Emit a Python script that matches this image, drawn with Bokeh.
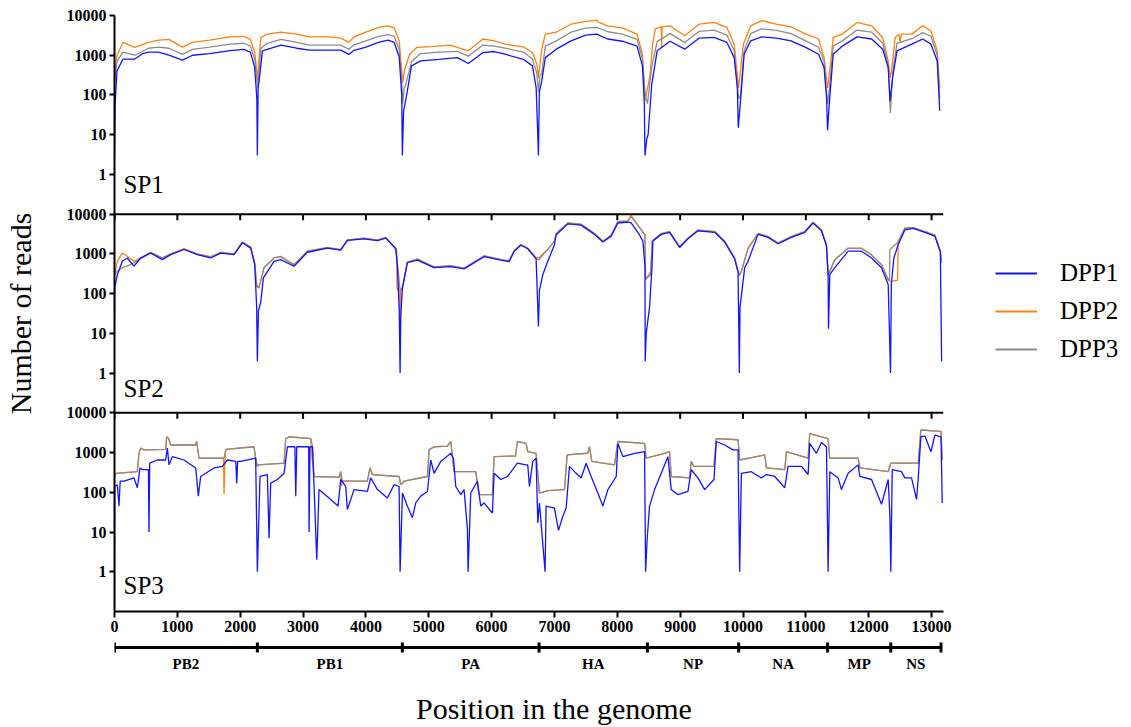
from bokeh.plotting import figure
from bokeh.models import (Range1d, LogScale, FixedTicker, Legend, LegendItem, Label, Span,
                          ColumnDataSource)
from bokeh.layouts import column, row
from bokeh.embed import file_html
from bokeh.resources import INLINE
from bokeh.core.properties import value

# ---------------- data (position in genome, number of reads) ----------------
SEGMENTS = ["PB2", "PB1", "PA", "HA", "NP", "NA", "MP", "NS"]
SEG_BOUNDS = [0, 2273, 4580, 6755, 8479, 9931, 11346, 12351, 13150]
X_TICKS = [0, 1000, 2000, 3000, 4000, 5000, 6000, 7000, 8000, 9000, 10000, 11000, 12000, 13000]
Y_TICKS = [1, 10, 100, 1000, 10000]
Y_TICK_LABELS = ["1", "10", "100", "1000", "10000"]
SERIES = ["DPP1", "DPP2", "DPP3"]
PANELS = ["SP1", "SP2", "SP3"]

SP1_DPP1 = [(0,3),(10,60),(40,400),(135,800),(324,800),(450,1100),(540,1200),(700,1200),(865,1000),(1080,750),(1243,1000),(1513,1100),(1838,1300),(2054,1400),(2162,1200),(2230,500),(2265,80),(2273,3),
(2285,150),(2300,220),(2354,1290),(2650,1800),(2900,1500),(3100,1350),(3400,1350),(3600,1350),(3730,1050),(3800,1300),(4000,1600),(4200,2100),(4350,2400),(4450,2100),(4530,900),(4570,100),(4580,3),
(4600,40),(4640,85),(4726,540),(4870,720),(5163,790),(5455,870),(5630,620),(5863,1170),(6040,1240),(6213,1060),(6505,790),(6650,540),(6709,150),(6745,3),
(6760,120),(6797,220),(6855,870),(7030,1420),(7263,2300),(7497,3200),(7672,3400),(7847,2560),(8080,2250),(8314,1700),(8400,540),(8430,60),(8440,3),
(8470,8),(8490,10),(8547,180),(8634,1290),(8839,2250),(9072,1420),(9305,2700),(9539,2800),(9743,2100),(9860,870),(9910,150),(9925,15),
(9960,70),(10018,1060),(10122,2300),(10297,2900),(10531,2700),(10764,2300),(10997,1580),(11202,1060),(11290,490),(11330,80),(11345,13),
(11376,70),(11435,1060),(11581,1700),(11814,2900),(12047,2560),(12222,1420),(12310,490),(12340,70),
(12380,270),(12450,1290),(12685,1900),(12860,2560),(12990,1900),(13090,720),(13130,40)]

SP1_DPP2 = [(0,300),(40,1000),(135,2100),(324,1580),(540,2100),(700,2400),(865,2500),(1080,1600),(1243,2100),(1513,2400),(1838,2900),(2054,3000),(2162,2500),(2230,1200),(2265,400),(2280,250),
(2300,900),(2330,2800),(2430,3400),(2650,3800),(2900,3400),(3100,2900),(3400,2900),(3600,2700),(3730,2100),(3800,2800),(4000,3800),(4200,5000),(4350,5500),(4450,4900),(4530,2300),(4570,400),(4585,200),
(4610,400),(4697,1060),(4813,1580),(5047,1650),(5340,1800),(5630,1290),(5863,2560),(6040,2300),(6213,1900),(6505,1630),(6650,1170),(6720,600),(6745,270),
(6770,600),(6800,1500),(6855,3400),(7030,3800),(7263,6100),(7497,7100),(7640,7400),(7672,7700),(7700,6800),(7847,5500),(8080,4900),(8314,3400),(8400,1060),(8440,70),
(8460,100),(8520,300),(8560,1800),(8605,4600),(8700,5200),(8705,1600),(8712,5200),(8839,5500),(9072,3100),(9305,6100),(9539,6700),(9743,5000),(9860,1900),(9930,150),
(9950,300),(10006,1900),(10122,5500),(10297,7400),(10531,6100),(10764,5200),(10997,3400),(11100,3000),(11202,2560),(11290,870),(11347,150),
(11380,400),(11435,2800),(11581,3400),(11814,6700),(12047,5500),(12222,2800),(12310,720),(12340,270),
(12370,500),(12421,2800),(12480,3400),(12500,2100),(12520,3400),(12685,3400),(12860,5500),(12990,4100),(13090,1290),(13130,150)]

SP1_DPP3 = [(0,200),(40,700),(135,1200),(324,1000),(540,1500),(700,1600),(865,1500),(1080,1050),(1243,1400),(1513,1600),(1838,1900),(2054,2000),(2162,1700),(2230,800),(2265,250),(2280,150),
(2300,400),(2330,1500),(2430,2000),(2650,2500),(2900,2100),(3100,1800),(3400,1800),(3600,1800),(3730,1400),(3800,1800),(4000,2300),(4200,3000),(4350,3300),(4450,3000),(4530,1400),(4570,250),(4585,60),
(4610,150),(4640,200),(4726,700),(4870,1100),(5163,1200),(5455,1250),(5630,950),(5863,1800),(6040,1700),(6213,1500),(6505,1200),(6650,800),(6720,350),(6745,120),
(6770,300),(6797,350),(6855,1700),(7030,2300),(7263,3800),(7497,4800),(7672,5000),(7847,3900),(8080,3400),(8314,2500),(8400,800),(8445,100),
(8480,60),(8547,500),(8634,2200),(8839,3500),(9072,2100),(9305,4000),(9539,4300),(9743,3200),(9860,1300),(9930,80),
(9960,100),(10018,1300),(10122,3500),(10297,4600),(10531,4200),(10764,3500),(10997,2300),(11202,1600),(11290,700),(11346,60),
(11376,150),(11435,1700),(11581,2300),(11814,4300),(12047,3800),(12222,2000),(12310,600),(12345,35),
(12380,350),(12450,2000),(12685,2600),(12860,3700),(12990,3000),(13090,1000),(13130,80)]

SP2_DPP1 = [(0,19),(3,140),(45,300),(125,650),(204,790),(310,490),(416,790),(576,1050),(761,720),(894,960),(1106,1290),(1318,960),(1530,790),(1690,1050),(1902,960),(2034,1900),(2167,1400),(2231,540),(2262,45),(2273,2),
(2290,37),(2326,60),(2369,250),(2538,650),(2645,720),(2857,490),(3069,1100),(3387,1400),(3599,1250),(3705,2200),(3971,2400),(4183,2150),(4316,2500),(4475,1350),(4501,500),(4530,40),(4544,1),
(4554,25),(4581,140),(4660,600),(4820,700),(5085,450),(5350,480),(5562,420),(5880,850),(6146,700),(6278,640),(6358,1150),(6464,1650),(6575,1350),(6708,750),(6745,15),
(6761,120),(6814,300),(6894,650),(7000,1700),(7027,3000),(7212,5700),(7425,5300),(7637,3100),(7770,2000),(7903,2800),(8009,6000),(8168,6300),(8221,6000),(8354,3000),(8407,2100),(8440,500),(8444,2),
(8460,10),(8513,45),(8551,450),(8567,2100),(8699,3100),(8832,3500),(8991,1450),(9124,2400),(9283,3800),(9549,3500),(9708,2000),(9867,750),(9921,350),(9942,1),
(9952,45),(10027,450),(10080,650),(10239,3100),(10398,2600),(10558,1800),(10770,2600),(10983,3500),(11115,6000),(11248,3800),(11328,1600),(11354,300),(11360,13),
(11381,300),(11460,450),(11673,1170),(11885,1170),(12045,790),(12204,450),(12310,170),(12347,1),
(12360,170),(12400,790),(12469,1700),(12575,4000),(12708,4400),(12894,3500),(13053,2800),(13140,1100),(13160,2)]

SP2_DPP2 = [(0,300),(45,650),(125,1050),(204,870),(310,650),(416,800),(576,1100),(761,800),(894,1000),(1106,1350),(1318,1000),(1530,850),(1690,1100),(1902,1000),(2034,2000),(2167,1500),(2231,600),(2262,170),
(2299,140),(2379,450),(2538,790),(2645,870),(2857,540),(3069,1170),(3387,1450),(3599,1290),(3705,2250),(3971,2500),(4183,2250),(4316,2600),(4475,1400),(4490,1100),(4495,130),(4540,120),(4545,5),(4555,120),
(4581,140),(4660,620),(4820,750),(5085,470),(5350,510),(5562,440),(5880,900),(6146,730),(6278,680),(6358,1200),(6464,1750),(6575,1400),(6708,800),(6745,790),
(6894,1300),(7000,2100),(7027,3300),(7212,6000),(7425,5600),(7637,3300),(7770,2100),(7903,3000),(8009,6600),(8168,6800),(8221,9500),(8300,6000),(8440,3000),(8450,230),(8530,350),(8556,2100),
(8699,3300),(8832,3700),(8991,1550),(9124,2500),(9283,4000),(9549,3700),(9708,2100),(9867,790),(9921,370),(9942,300),
(9974,370),(10080,1400),(10239,3300),(10398,2750),(10558,1900),(10770,2750),(10983,3700),(11115,6300),(11248,4000),(11328,1700),(11354,300),
(11381,370),(11460,720),(11673,1400),(11885,1400),(12045,960),(12204,540),(12310,230),(12340,200),
(12460,220),(12469,2100),(12575,4500),(12708,4600),(12894,3700),(13053,3000),(13140,1200),(13160,700)]

SP2_DPP3 = [(0,300),(45,370),(125,450),(204,500),(310,600),(416,750),(576,1080),(761,780),(894,980),(1106,1320),(1318,980),(1530,820),(1690,1080),(1902,980),(2034,1950),(2167,1450),(2231,580),(2262,150),
(2299,140),(2379,450),(2538,790),(2645,850),(2857,520),(3069,1150),(3387,1420),(3599,1270),(3705,2220),(3971,2450),(4183,2200),(4316,2550),(4475,1380),(4520,300),(4544,120),
(4581,140),(4660,610),(4820,730),(5085,460),(5350,500),(5562,430),(5880,880),(6146,720),(6278,660),(6358,1180),(6464,1700),(6575,1380),(6708,780),(6745,700),
(6894,1300),(7000,2100),(7027,3200),(7212,5900),(7425,5500),(7637,3200),(7770,2050),(7903,2900),(8009,6500),(8168,6700),(8221,8700),(8300,6000),(8440,3000),(8450,230),(8530,300),(8556,2100),
(8699,3200),(8832,3600),(8991,1500),(9124,2450),(9283,3900),(9549,3600),(9708,2050),(9867,780),(9921,360),(9942,280),
(9974,360),(10080,1350),(10239,3200),(10398,2700),(10558,1850),(10770,2700),(10983,3600),(11115,6200),(11248,3900),(11328,1650),(11354,290),
(11381,360),(11460,700),(11673,1380),(11885,1380),(12045,940),(12204,530),(12310,220),(12330,220),(12337,1290),
(12469,2000),(12575,4400),(12708,4600),(12894,3600),(13053,2900),(13140,1150),(13160,600)]

SP3_DPP1 = [(0,0.15),(3,140),(45,155),(72,45),(90,190),(151,190),(310,230),(363,130),(406,410),(443,370),(540,370),(549,10),(560,540),(682,650),(814,650),(841,1290),(868,490),(920,790),(1106,650),(1292,410),(1334,80),(1371,250),(1584,410),(1716,450),(1796,650),(1930,600),(1944,170),(1960,600),(2008,600),(2246,720),(2273,1),
(2315,250),(2432,280),(2459,7),(2485,170),(2591,210),(2698,300),(2751,1400),(2870,1400),(2884,80),(2900,1400),(2963,1400),(3090,1400),(3096,10),(3110,1400),(3150,1400),(3175,140),(3218,2),(3254,117),(3440,66),(3557,45),(3599,210),(3679,140),(3705,37),(3811,117),(4024,105),(4077,230),(4183,117),(4342,72),(4448,155),(4528,140),(4544,1),
(4581,96),(4660,45),(4740,23),(4793,54),(4873,80),(4979,105),(5032,650),(5085,300),(5191,600),(5350,960),(5393,720),(5430,140),(5510,87),(5562,117),(5615,12),(5626,1),(5668,96),(5774,190),(5827,45),(5880,54),(6013,30),(6040,300),(6146,210),(6252,250),(6411,540),(6544,490),(6575,490),(6602,140),(6655,600),(6708,720),(6735,17),
(6761,54),(6851,1),(6867,45),(7000,40),(7064,11),(7133,25),(7186,40),(7239,450),(7345,300),(7425,230),(7504,540),(7584,250),(7690,96),(7770,45),(7850,117),(7983,250),(8009,1700),(8089,790),(8274,960),(8434,1050),(8450,1),
(8476,7),(8513,45),(8593,117),(8699,300),(8805,790),(8858,117),(8965,87),(9124,105),(9177,370),(9283,230),(9390,117),(9538,210),(9575,1900),(9708,1550),(9841,1170),(9921,1170),(9947,1),
(9974,300),(10133,330),(10292,230),(10372,280),(10505,250),(10664,130),(10717,450),(10930,450),(11036,280),(11062,1700),(11168,960),(11248,1800),(11328,1400),(11354,1),
(11381,330),(11514,230),(11566,117),(11673,300),(11832,490),(11859,250),(12045,210),(12204,50),(12310,210),(12337,25),(12352,1),
(12374,370),(12522,330),(12575,230),(12681,230),(12761,66),(12788,230),(12830,2500),(12894,2600),(12990,1050),(13053,2750),(13150,2500),(13170,54)]

SP3_DPP2 = [(3,250),(19,300),(363,330),(390,960),(416,1290),(470,1170),(814,1200),(830,2500),(860,2300),(894,1550),(1290,1550),(1307,1900),(1345,720),(1735,720),(1743,90),(1755,500),(1770,1200),(2220,1400),(2246,700),(2273,450),
(2290,490),(2698,540),(2724,2250),(2777,2500),(3122,2250),(3140,800),(3175,250),(3573,240),(3599,330),(3610,140),(3626,190),(4024,190),(4066,410),(4103,280),(4528,250),(4554,155),
(4607,190),(4979,250),(5005,1170),(5085,1400),(5297,1450),(5350,1900),(5403,330),(5748,330),(5801,87),(6013,87),(6040,790),(6380,820),(6411,1900),(6549,1700),(6575,1050),(6708,960),(6735,300),
(6761,96),(6894,110),(7159,117),(7202,870),(7531,960),(7557,1400),(7595,600),(7956,490),(8009,1900),(8434,1700),(8460,720),
(8752,960),(8832,1050),(8858,250),(9150,230),(9177,600),(9219,450),(9538,450),(9575,2250),(9921,2100),(9947,650),
(10345,870),(10372,410),(10664,370),(10691,1050),(11036,720),(11062,3000),(11354,2250),(11381,720),
(11832,720),(11859,410),(12310,330),(12352,540),(12788,540),(12830,3700),(13150,3400),(13170,650)]

SP3_DPP3 = [(3,250),(19,300),(363,330),(390,960),(416,1290),(470,1170),(814,1200),(830,2500),(860,2300),(894,1550),(1290,1550),(1307,1900),(1345,720),(1743,720),(1770,1200),(2220,1400),(2246,700),(2273,450),
(2290,490),(2698,540),(2724,2250),(2777,2500),(3122,2250),(3150,1500),(3175,250),(3573,240),(3599,330),(3626,190),(4024,190),(4066,410),(4103,280),(4528,250),(4554,155),
(4607,190),(4979,250),(5005,1170),(5085,1400),(5297,1450),(5350,1900),(5403,330),(5748,330),(5801,87),(6013,87),(6040,790),(6380,820),(6411,1900),(6549,1700),(6575,1050),(6708,960),(6735,300),
(6761,96),(6894,110),(7159,117),(7202,870),(7531,960),(7557,1400),(7595,600),(7956,490),(8009,1900),(8434,1700),(8460,720),
(8752,960),(8832,1050),(8858,250),(9150,230),(9177,600),(9219,450),(9538,450),(9575,2250),(9921,2100),(9947,650),
(10345,870),(10372,410),(10664,370),(10691,1050),(11036,720),(11062,3000),(11354,2250),(11381,720),
(11832,720),(11859,410),(12310,330),(12352,540),(12788,540),(12830,3700),(13150,3400),(13170,650)]

DATA = {
    "SP1": {"DPP1": SP1_DPP1, "DPP2": SP1_DPP2, "DPP3": SP1_DPP3},
    "SP2": {"DPP1": SP2_DPP1, "DPP2": SP2_DPP2, "DPP3": SP2_DPP3},
    "SP3": {"DPP1": SP3_DPP1, "DPP2": SP3_DPP2, "DPP3": SP3_DPP3},
}
COLORS = {"DPP1": "#1414FF", "DPP2": "#FF8012", "DPP3": "#8C8C8C"}
LABEL_POS = {"SP1": (143, 0.25), "SP2": (143, 0.186), "SP3": (143, 0.21)}

# ---------------- layout constants ----------------
W_TOTAL = 1131
LEFT, RIGHT = 113, 12
W_MAIN = LEFT + 830 + RIGHT
W_LEG = W_TOTAL - W_MAIN
TOP, BOTTOM = 15, 28
FRAME_H = 596
X_END = 13190
Y_MIN, Y_MAX = 0.1, 10000
SHIFT = {"SP3": 1, "SP2": 10 ** 5, "SP1": 10 ** 10}
RANGE_NAME = {"SP3": "default", "SP2": "sp2", "SP1": "sp1"}
SERIF = "Liberation Serif"
H_A = TOP + FRAME_H + BOTTOM
H_B = 727 - H_A

xr = Range1d(0, X_END)
p = figure(width=W_MAIN, height=H_A, x_range=xr, y_range=Range1d(Y_MIN, Y_MAX * SHIFT["SP1"]),
           y_axis_type="log", toolbar_location=None, output_backend="svg",
           min_border_left=LEFT, min_border_right=RIGHT, min_border_top=TOP, min_border_bottom=BOTTOM)
p.extra_y_ranges = {"sp1": Range1d(Y_MIN / SHIFT["SP1"], Y_MAX),
                    "sp2": Range1d(Y_MIN / SHIFT["SP2"], Y_MAX * SHIFT["SP1"] / SHIFT["SP2"])}
p.extra_y_scales = {"sp1": LogScale(), "sp2": LogScale()}
p.outline_line_color = None
p.grid.grid_line_color = None
p.background_fill_color = "white"

# left (shared) axis with per-panel labels
ticks, overrides = [], {}
for name in PANELS:
    for t, lab in zip(Y_TICKS, Y_TICK_LABELS):
        pos = int(t * SHIFT[name])
        ticks.append(pos)
        overrides[pos] = lab
ya = p.yaxis[0]
ya.ticker = FixedTicker(ticks=ticks, minor_ticks=[])
ya.major_label_overrides = overrides
ya.major_label_text_font = SERIF
ya.major_label_text_font_style = "bold"
ya.major_label_text_font_size = "16px"
ya.major_label_text_color = "black"
ya.major_tick_out = 5
ya.major_tick_in = 0
ya.minor_tick_line_color = None
ya.axis_line_width = 2
ya.major_tick_line_width = 2
ya.major_label_standoff = 3
ya.axis_label = "Number of reads"
ya.axis_label_text_font = SERIF
ya.axis_label_text_font_style = "normal"
ya.axis_label_text_font_size = "30px"
ya.axis_label_text_color = "black"
ya.axis_label_standoff = 27

xa = p.xaxis[0]
xa.ticker = FixedTicker(ticks=X_TICKS, minor_ticks=[])
xa.major_label_text_font = SERIF
xa.major_label_text_font_style = "bold"
xa.major_label_text_font_size = "16px"
xa.major_label_text_color = "black"
xa.major_tick_out = 6
xa.major_tick_in = 0
xa.axis_line_width = 2
xa.major_tick_line_width = 2
xa.major_label_standoff = 3
xa.minor_tick_line_color = None

# separator lines between panels (x axes of SP1 and SP2)
tick_len = 10 ** (-6 / 39.7)
for name in ["SP1", "SP2"]:
    base = Y_MIN * SHIFT[name]
    p.add_layout(Span(location=base, dimension="width", line_color="black", line_width=2))
    p.segment(x0=X_TICKS, x1=X_TICKS, y0=[base] * len(X_TICKS), y1=[base * tick_len] * len(X_TICKS),
              line_color="black", line_width=2)

for name in PANELS:
    for s in ["DPP2", "DPP3", "DPP1"]:
        pts = DATA[name][s]
        src = ColumnDataSource(dict(x=[a for a, b in pts], y=[b for a, b in pts]))
        p.line("x", "y", source=src, line_color=COLORS[s], line_width=1.3,
               y_range_name=RANGE_NAME[name])
    lx, ly = LABEL_POS[name]
    p.add_layout(Label(x=lx, y=ly, text=name, y_range_name=RANGE_NAME[name],
                       text_font=SERIF, text_font_size="25px", text_color="black"))

# ---------------- segment bar & x label ----------------
q = figure(width=W_MAIN, height=H_B, x_range=xr, y_range=Range1d(0, H_B), toolbar_location=None,
           output_backend="svg", min_border_left=LEFT, min_border_right=RIGHT,
           min_border_top=0, min_border_bottom=0, x_axis_location=None, y_axis_location=None)
q.outline_line_color = None
q.grid.grid_line_color = None
BAR_Y = H_B - 8
q.segment(x0=[SEG_BOUNDS[0]], x1=[SEG_BOUNDS[-1]], y0=[BAR_Y], y1=[BAR_Y], line_color="black", line_width=3)
q.segment(x0=SEG_BOUNDS, x1=SEG_BOUNDS, y0=[BAR_Y - 5] * len(SEG_BOUNDS), y1=[BAR_Y + 5] * len(SEG_BOUNDS),
          line_color="black", line_width=3)
mids = [(a + b) / 2 for a, b in zip(SEG_BOUNDS[:-1], SEG_BOUNDS[1:])]
q.text(x=mids, y=[64] * len(mids), text=SEGMENTS, text_font=value(SERIF), text_font_style="bold",
       text_font_size="15px", text_align="center", text_baseline="middle", text_color="black")
q.text(x=[6992], y=[19], text=["Position in the genome"], text_font=value(SERIF),
       text_font_size="30px", text_align="center", text_baseline="middle", text_color="black")

# ---------------- legend column ----------------
lg = figure(width=W_LEG, height=727, x_range=Range1d(0, 1), y_range=Range1d(0, 1),
            toolbar_location=None, output_backend="svg", min_border_left=0, min_border_right=0,
            min_border_top=0, min_border_bottom=0, x_axis_location=None, y_axis_location=None)
lg.outline_line_color = None
lg.grid.grid_line_color = None
items = []
for s in SERIES:
    r = lg.line(x=[5, 6], y=[5, 5], line_color=COLORS[s], line_width=2)
    items.append(LegendItem(label=s, renderers=[r]))
legend = Legend(items=items, location=(40, 363), orientation="vertical", margin=0, padding=0,
                spacing=8, glyph_width=42, glyph_height=30, label_height=30,
                label_standoff=23, label_text_font=SERIF, label_text_font_size="25px",
                label_text_color="black", border_line_color=None, background_fill_alpha=0)
lg.add_layout(legend)

layout = row(column(p, q), lg)
open("out.html", "w").write(file_html(layout, INLINE))
